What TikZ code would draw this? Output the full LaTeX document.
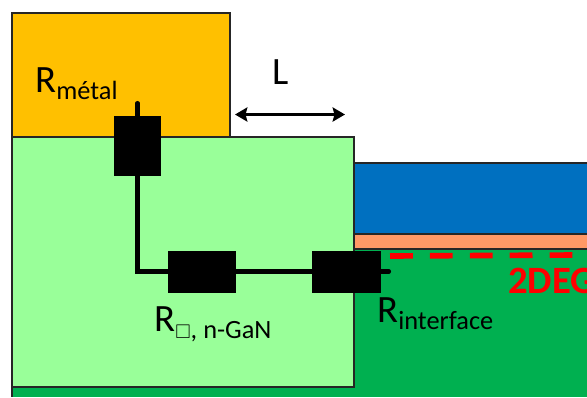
\documentclass[tikz,border=0pt]{standalone}
\usepackage{fontspec}
\setmainfont{Carlito}
\usepackage{amssymb}
\usepackage{graphicx}
\usetikzlibrary{arrows.meta}
\definecolor{metal}{RGB}{255,192,0}
\definecolor{ngan}{RGB}{153,255,153}
\definecolor{gan}{RGB}{0,176,80}
\definecolor{barrier}{RGB}{0,112,192}
\definecolor{spacer}{RGB}{255,153,102}
\tikzset{
    layer/.style={draw=black!85, line width=0.6pt},
    resist/.style={fill=black, draw=black, inner sep=0pt},
    wire/.style={line width=2.3pt, line cap=round},
    label/.style={inner sep=0pt, anchor=base west, font=\fontsize{22}{22}\selectfont}
}
\newcommand{\sub}[1]{\raisebox{-4.5pt}{\fontsize{15}{15}\selectfont #1}}
\begin{document}
\begin{tikzpicture}[x=0.02cm, y=-0.02cm]
        \useasboundingbox ( 0, 0 ) rectangle ( 587, 397 );

        % substrat
        \path [fill=gan] ( 354, 249 ) rectangle ( 587, 397 );
        \path [fill=gan] ( 12, 387 ) rectangle ( 587, 397 );
        \draw [layer] ( 12, 387 ) -- ( 12, 397 );

        % couches
        \draw [layer, fill=barrier] ( 587, 163 ) -- ( 354, 163 ) -- ( 354, 234 ) -- ( 587, 234 );
        \draw [layer, fill=spacer] ( 587, 234 ) -- ( 354, 234 ) -- ( 354, 249 ) -- ( 587, 249 );
        \draw [layer, fill=metal] ( 12, 13 ) rectangle ( 230, 137 );
        \draw [layer, fill=ngan] ( 12, 137 ) rectangle ( 354, 387 );

        % 2DEG
        \draw [red, line width=3.2pt, dash pattern=on 13pt off 9.7pt] ( 390, 256 ) -- ( 573, 255 );
        \node [anchor=base west, inner sep=0pt, red, font=\fontsize{22}{22}\selectfont\bfseries] (gas) at ( 508, 293 ) {2DEG};

        % resistances
        \node [resist, minimum width=46*0.02cm, minimum height=59*0.02cm] (rmetal) at ( 137.5, 145.5 ) {};
        \node [resist, minimum width=67*0.02cm, minimum height=41*0.02cm] (rngan) at ( 202, 271.5 ) {};
        \node [resist, minimum width=68*0.02cm, minimum height=41*0.02cm] (rint) at ( 346, 271.5 ) {};

        % fils
        \coordinate (top) at ( 137.5, 103 );
        \coordinate (corner) at ( 137.5, 271.5 );
        \coordinate (end) at ( 389, 271.5 );
        \draw [wire] (top) -- (rmetal);
        \draw [wire] (rmetal) -- (corner) -- (rngan);
        \draw [wire] (rngan) -- (rint);
        \draw [wire] (rint) -- (end);

        % longueur
        \node [anchor=base west, inner sep=0pt, font=\fontsize{22}{22}\selectfont] (len) at ( 272, 84 ) {L};
        \coordinate (left) at ( 235, 114.5 );
        \coordinate (right) at ( 345, 114.5 );
        \draw [{Stealth[length=7pt,width=8pt,inset=1pt]}-{Stealth[length=7pt,width=8pt,inset=1pt]}, line width=1.6pt] (left) -- (right);

        % textes
        \node [label] (lmetal) at ( 35, 92 ) {R\sub{métal}};
        \node [label] (lngan) at ( 154, 331 ) {R\sub{\scalebox{0.75}{$\square$}, n-GaN}};
        \node [label] (lint) at ( 377, 322 ) {R\sub{interface}};
\end{tikzpicture}
\end{document}
